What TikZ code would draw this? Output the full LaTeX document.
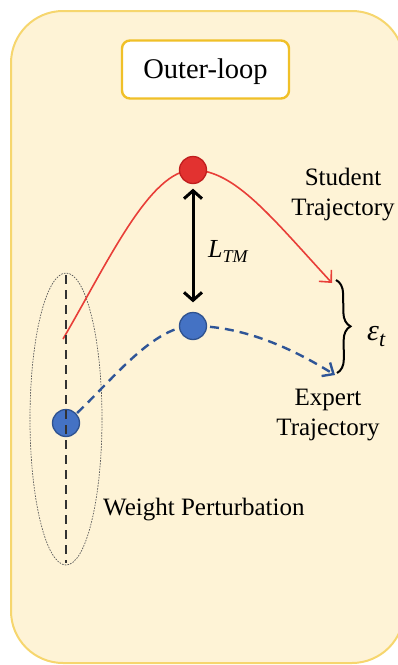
\documentclass[tikz,border=0pt]{standalone}
\usepackage{fontspec}
\setmainfont{Liberation Serif}
\usetikzlibrary{arrows.meta,shapes.geometric,decorations.pathreplacing}
\definecolor{framefill}{RGB}{254,243,214}
\definecolor{frameline}{RGB}{246,214,110}
\definecolor{boxline}{RGB}{240,192,40}
\definecolor{redfill}{RGB}{226,50,48}
\definecolor{redline}{RGB}{192,30,30}
\definecolor{redcurve}{RGB}{232,62,56}
\definecolor{bluefill}{RGB}{68,114,196}
\definecolor{blueline}{RGB}{47,82,143}
\definecolor{bluecurve}{RGB}{47,85,151}
\definecolor{perturb}{RGB}{50,50,50}
\tikzset{
  lbl/.style={font=\fontsize{25}{30}\selectfont, inner sep=0pt},
  reddot/.style={circle, draw=redline, fill=redfill, line width=1.3pt, minimum size=27pt, inner sep=0pt},
  bluedot/.style={circle, draw=blueline, fill=bluefill, line width=1.3pt, minimum size=27pt, inner sep=0pt},
  studentline/.style={draw=redcurve, line width=1.6pt},
  expertline/.style={draw=bluecurve, line width=2.4pt, dash pattern=on 9pt off 6pt},
}
\begin{document}
\begin{tikzpicture}[x=1pt,y=-1pt]
\useasboundingbox (0,0) rectangle (398,665);
\clip (0,0) rectangle (398,665);
% frame
\draw[fill=framefill, draw=frameline, line width=2pt, rounded corners=52pt] (11,11) rectangle (404,663);
% title box
\node[draw=boxline, fill=white, line width=2.4pt, rounded corners=8pt,
      minimum width=167pt, minimum height=58pt, inner sep=0pt,
      font=\fontsize{28.5}{34}\selectfont, text height=18.9pt, text depth=0pt]
      (title) at (205.5,69.5) {Outer-loop};
% positions
\coordinate (pR) at (193,170);
\coordinate (pBM) at (193,326);
\coordinate (pBL) at (66,423);
\coordinate (rs) at (63,339);
\coordinate (rt) at (332,283);
\coordinate (bt) at (335,375);
\coordinate (vtop) at (66,275);
\coordinate (vbot) at (66,563);
% perturbation ellipse
\node[ellipse, draw=perturb!80, line width=0.7pt, dash pattern=on 1.6pt off 1.2pt,
      minimum width=72pt, minimum height=292pt, inner sep=0pt] (ell) at (66,419) {};
% expert trajectory
\draw[expertline, -{Straight Barb[length=9pt,width=16pt]}]
  (pBL) .. controls (105,390) and (150,326) .. (pBM)
        .. controls (245,326) and (295,350) .. (bt);
% student trajectory
\draw[studentline, -{Straight Barb[length=9pt,width=17pt]}]
  (rs) .. controls (108,262) and (150,170) .. (pR)
       .. controls (235,170) and (272,218) .. (rt);
% circles
\node[reddot] (R) at (pR) {};
\node[bluedot] (BM) at (pBM) {};
\node[bluedot] (BL) at (pBL) {};
% weight perturbation axis
\draw[draw=perturb, line width=2.4pt, dash pattern=on 9pt off 6pt] (vtop) -- (vbot);
% L_TM arrow
\draw[line width=3pt, {Straight Barb[length=8pt,width=18pt]}-{Straight Barb[length=8pt,width=18pt]},
      shorten <=4.5pt, shorten >=9.5pt] (R) -- (BM);
\node[inner sep=0pt, anchor=base west, font=\fontsize{26}{30}\selectfont\itshape] (ltm) at (208,257)
  {L\raisebox{-5pt}{\fontsize{18}{20}\selectfont\itshape TM}};
% brace
\coordinate (btop) at (336,280);
\coordinate (bbot) at (337,373);
\draw[line width=2pt, decorate, decoration={brace, amplitude=14pt}] (btop) -- (bbot);
\node[inner sep=0pt, anchor=base west, font=\fontsize{30}{34}\selectfont\itshape] (eps) at (367,340)
  {ε\raisebox{-6pt}{\fontsize{22}{24}\selectfont\itshape t}};
% labels
\node[lbl, align=center, anchor=base] (stu) at (343,215) {Student\\Trajectory};
\node[lbl, align=center, anchor=base] (exp) at (328,435) {Expert\\Trajectory};
\node[lbl, anchor=base west] (wp) at (103,515) {Weight Perturbation};
\end{tikzpicture}
\end{document}
